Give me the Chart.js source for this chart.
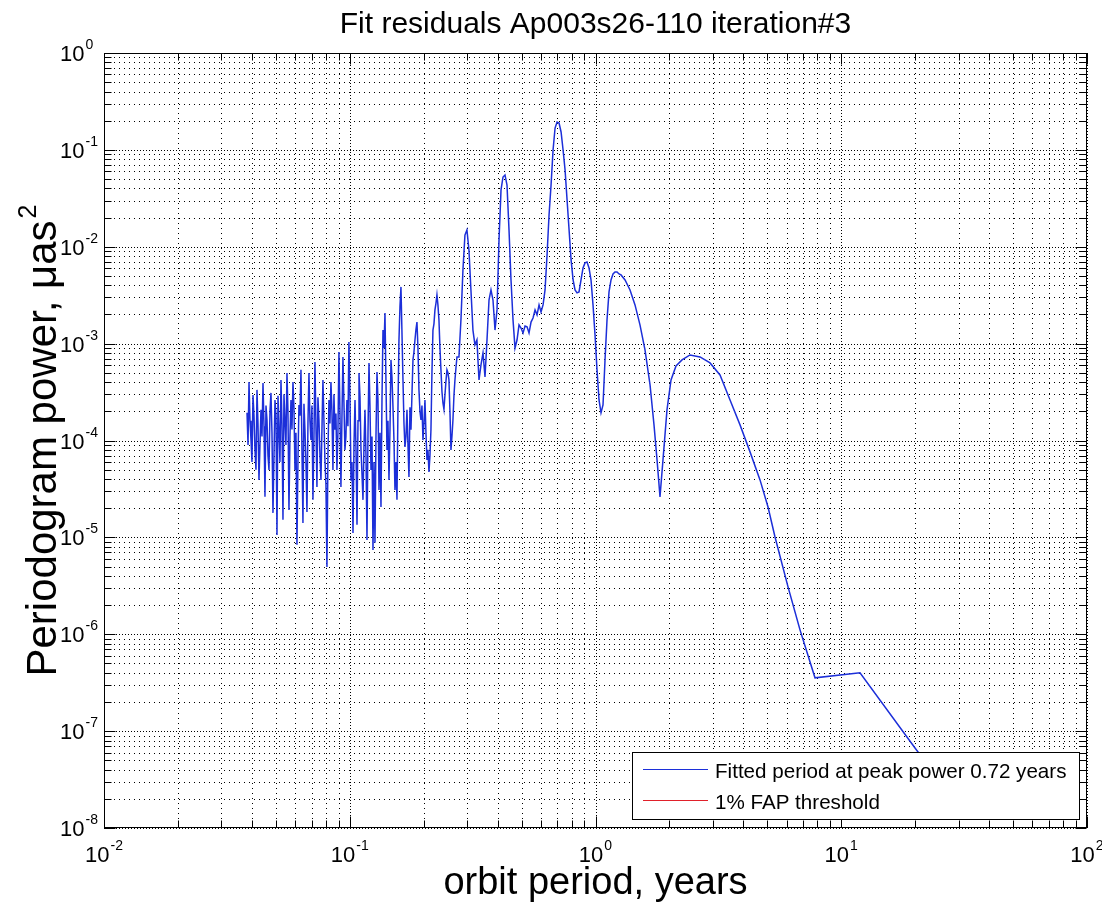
<!DOCTYPE html>
<html>
<head>
<meta charset="utf-8">
<script src="https://cdn.jsdelivr.net/npm/chart.js@4.4.0/dist/chart.umd.min.js"></script>
<style>
  html, body { margin: 0; padding: 0; background: #fff; }
  canvas { display: block; }
</style>
</head>
<body>
<canvas id="fitChart" width="1102" height="907"></canvas>
<script>
// orbit period (years) and periodogram power
var periods = [
  0.03819, 0.03855, 0.03891, 0.03928, 0.03964, 0.04001, 0.04039, 0.04077, 0.04115, 0.04154,
  0.04193, 0.04232, 0.04272, 0.04312, 0.04353, 0.04394, 0.04436, 0.04478, 0.04519, 0.04562,
  0.04605, 0.04648, 0.04692, 0.04736, 0.04780, 0.04825, 0.04871, 0.04917, 0.04963, 0.05010,
  0.05057, 0.05105, 0.05152, 0.05200, 0.05250, 0.05299, 0.05349, 0.05399, 0.05450, 0.05501,
  0.05553, 0.05605, 0.05658, 0.05711, 0.05765, 0.05819, 0.05874, 0.05929, 0.05985, 0.06041,
  0.06098, 0.06155, 0.06213, 0.06271, 0.06331, 0.06391, 0.06450, 0.06511, 0.06572, 0.06634,
  0.06697, 0.06760, 0.06823, 0.06887, 0.06952, 0.07017, 0.07084, 0.07151, 0.07218, 0.07286,
  0.07354, 0.07423, 0.07493, 0.07564, 0.07635, 0.07707, 0.07779, 0.07852, 0.07926, 0.08001,
  0.08076, 0.08152, 0.08229, 0.08306, 0.08384, 0.08463, 0.08543, 0.08623, 0.08704, 0.08786,
  0.08869, 0.08952, 0.09036, 0.09121, 0.09207, 0.09294, 0.09381, 0.09469, 0.09558, 0.09648,
  0.09739, 0.09831, 0.09923, 0.10016, 0.10118, 0.10213, 0.10309, 0.10406, 0.10504, 0.10603,
  0.10703, 0.10804, 0.10905, 0.11008, 0.11111, 0.11216, 0.11321, 0.11428, 0.11535, 0.11644,
  0.11753, 0.11864, 0.11975, 0.12088, 0.12202, 0.12317, 0.12432, 0.12549, 0.12667, 0.12786,
  0.12907, 0.13028, 0.13151, 0.13275, 0.13399, 0.13525, 0.13653, 0.13781, 0.13911, 0.14042,
  0.14174, 0.14307, 0.14442, 0.14578, 0.14715, 0.14853, 0.14993, 0.15134, 0.15276, 0.15420,
  0.15565, 0.15711, 0.15859, 0.16008, 0.16159, 0.16311, 0.16465, 0.16620, 0.16776, 0.16934,
  0.17093, 0.17254, 0.17416, 0.17580, 0.17746, 0.17913, 0.18081, 0.18251, 0.18423, 0.18596,
  0.18771, 0.18948, 0.19126, 0.19306, 0.19488, 0.19671, 0.19856, 0.20043, 0.20232, 0.20422,
  0.20614, 0.20808, 0.21004, 0.21202, 0.21401, 0.21602, 0.21806, 0.22011, 0.22218, 0.22427,
  0.22638, 0.22851, 0.23066, 0.23283, 0.23502, 0.23723, 0.23947, 0.24172, 0.24400, 0.24630,
  0.24861, 0.25095, 0.25331, 0.25569, 0.25810, 0.26053, 0.26298, 0.26545, 0.26795, 0.27047,
  0.27302, 0.27818, 0.28344, 0.28880, 0.29426, 0.29982, 0.30549, 0.31127, 0.31716, 0.32315,
  0.32926, 0.3357, 0.3420, 0.3485, 0.3551, 0.3618, 0.3687, 0.3756, 0.3827, 0.3900,
  0.3974, 0.4049, 0.4126, 0.4204, 0.4283, 0.4364, 0.4447, 0.4531, 0.4617, 0.4704,
  0.4793, 0.4884, 0.4977, 0.5071, 0.5167, 0.5265, 0.5364, 0.5466, 0.5569, 0.5675,
  0.5782, 0.5892, 0.6003, 0.6117, 0.6233, 0.6351, 0.6471, 0.6594, 0.6719, 0.6846,
  0.6976, 0.7108, 0.7243, 0.7380, 0.7519, 0.7662, 0.7807, 0.7955, 0.8106, 0.8254,
  0.8410, 0.8569, 0.8731, 0.8897, 0.9065, 0.9236, 0.9411, 0.9589, 0.9770, 0.9955,
  1.0143, 1.0335, 1.0530, 1.0729, 1.0933, 1.1140, 1.1350, 1.1565, 1.1784, 1.2007,
  1.2234, 1.2466, 1.270, 1.319, 1.382, 1.448, 1.517, 1.590, 1.667, 1.730,
  1.780, 1.830, 1.882, 1.954, 2.029, 2.126, 2.249, 2.424, 2.662, 2.924,
  3.211, 3.527, 3.873, 4.254, 4.671, 5.035, 5.376, 6.073, 6.795, 7.820,
  11.92, 19.96, 30.4
];
var powers = [
  1.93e-4, 9e-5, 4.02e-4, 1.6e-4, 1.01e-4, 6e-5, 2.95e-4, 1.8e-4, 8.0e-5, 5e-5,
  3.33e-4, 1.5e-4, 3.92e-5, 9e-5, 2.07e-4, 1.1e-4, 3.93e-4, 1.4e-4, 2.62e-5, 2.3e-4,
  1.63e-4, 7e-5, 4.97e-5, 2.0e-4, 3.10e-4, 1.2e-4, 1.79e-5, 7e-5, 2.62e-4, 1.8e-4,
  1.06e-5, 2.9e-4, 1.29e-4, 6e-5, 4.22e-4, 1.5e-4, 1.52e-5, 3.0e-4, 1.63e-4, 9e-5,
  4.98e-4, 2.0e-4, 1.92e-5, 1.1e-4, 2.62e-4, 1.3e-4, 4.02e-4, 2.2e-4, 4.97e-5, 1.2e-4,
  8.4e-6, 6e-5, 2.33e-4, 1.8e-4, 5.36e-4, 8e-5, 1.41e-5, 2.4e-4, 1.29e-4, 6e-5,
  1.83e-5, 1.5e-4, 4.98e-4, 1.6e-4, 1.01e-4, 2.3e-4, 2.44e-5, 1.1e-4, 6.47e-4, 1.4e-4,
  3.32e-5, 2.8e-4, 1.63e-4, 7e-5, 3.92e-5, 1.3e-4, 4.22e-4, 1.6e-4, 6.31e-5, 3.5e-5,
  4.96e-6, 7e-5, 2.62e-4, 1.5e-4, 4.02e-4, 2.0e-4, 4.97e-5, 3.0e-4, 1.29e-4, 1.9e-4,
  4.97e-5, 1.2e-4, 8.21e-4, 2.0e-4, 3.32e-5, 1.7e-4, 7.29e-4, 2.5e-4, 8.0e-5, 1.1e-4,
  2.62e-4, 1.4e-4, 1.04e-3, 3.0e-4, 3.92e-5, 6e-5, 1.11e-5, 9e-5, 2.62e-4, 8e-5,
  1.35e-5, 1.6e-4, 4.98e-4, 2.8e-4, 8.0e-5, 4.5e-5, 2.44e-5, 9e-5, 2.07e-4, 7e-5,
  9.4e-6, 1.2e-4, 6.32e-4, 2.2e-4, 4.97e-5, 1.1e-4, 7.4e-6, 6e-5, 8.8e-6, 1.1e-4,
  5.10e-4, 2.6e-4, 3.09e-5, 1.2e-4, 2.06e-5, 2.6e-4, 1.38e-3, 9e-4, 2.07e-3, 4e-4,
  8.0e-5, 1.6e-4, 3.92e-5, 1.3e-4, 6.79e-4, 4.5e-4, 2.22e-4, 1.0e-4, 3.09e-5, 6e-5,
  2.44e-5, 2.2e-4, 1.09e-3, 2.4e-3, 3.85e-3, 1.3e-3, 4.22e-4, 1.5e-4, 8.59e-5, 1.1e-4,
  2.07e-4, 9e-5, 4.21e-5, 2.2e-4, 1.29e-4, 3.0e-4, 6.79e-4, 8.2e-4, 1.09e-3, 1.4e-3,
  1.67e-3, 9e-4, 3.33e-4, 2.0e-4, 1.63e-4, 2.3e-4, 1.01e-4, 1.5e-4, 2.62e-4, 1.2e-4,
  6.31e-5, 8e-5, 4.74e-5, 7e-5, 1.29e-4, 5e-4, 1.38e-3, 1.6e-3, 2.23e-3, 2.6e-3,
  3.18e-3, 2.5e-3, 1.76e-3, 9e-4, 5.36e-4, 3.2e-4, 2.44e-4, 2.1e-4, 2.95e-4, 4.1e-4,
  5.36e-4, 5.0e-4, 4.22e-4, 2.0e-4, 8.0e-5, 1.1e-4, 1.63e-4, 2.9e-4, 4.22e-4, 5.6e-4,
  7.29e-4, 7.29e-4, 1.76e-3, 5.76e-3, 1.32e-2, 1.49e-2, 9.27e-3, 3.58e-3, 1.38e-3, 9.70e-4,
  1.09e-3, 4.22e-4, 6.03e-4, 8.02e-4, 4.53e-4, 1.09e-3, 2.82e-3, 3.58e-3, 2.82e-3, 1.38e-3,
  2.23e-3, 1.175e-2, 3.86e-2, 5.25e-2, 5.51e-2, 4.34e-2, 1.49e-2, 4.54e-3, 1.76e-3, 9.03e-4,
  1.09e-3, 1.56e-3, 1.45e-3, 1.29e-3, 1.52e-3, 1.49e-3, 1.29e-3, 1.67e-3, 1.84e-3, 2.23e-3,
  1.98e-3, 2.51e-3, 2.12e-3, 2.51e-3, 3.58e-3, 8.23e-3, 2.13e-2, 4.34e-2, 9.98e-2, 0.168,
  0.194, 0.1895, 0.153, 9.98e-2, 6.2e-2, 3.04e-2, 1.49e-2, 7.31e-3, 4.54e-3, 3.58e-3,
  3.34e-3, 3.42e-3, 4.54e-3, 6.04e-3, 6.81e-3, 6.97e-3, 6.04e-3, 4.54e-3, 2.51e-3, 1.23e-3,
  5.36e-4, 2.62e-4, 1.93e-4, 2.33e-4, 6.79e-4, 1.76e-3, 3.42e-3, 4.54e-3, 5.24e-3, 5.50e-3,
  5.50e-3, 5.24e-3, 5.12e-3, 4.54e-3, 3.58e-3, 2.51e-3, 1.56e-3, 8.61e-4, 3.75e-4, 1.45e-4,
  6.31e-5, 2.62e-5, 6.31e-5, 2.07e-4, 4.22e-4, 5.89e-4, 6.79e-4, 7.64e-4, 7.29e-4, 6.32e-4,
  4.75e-4, 2.62e-4, 1.45e-4, 7.63e-5, 3.92e-5, 2.06e-5, 1.01e-5, 3.08e-6, 1.11e-6, 3.55e-7,
  4.0e-7, 6.7e-8, 1.62e-8
];
// the 1% FAP threshold line never enters the plotted range
var thresholdPeriods = [];
var thresholdPowers = [];

var xExponents = [-2, -1, 0, 1, 2];
var yExponents = [-8, -7, -6, -5, -4, -3, -2, -1, 0];
var minorSteps = [2, 3, 4, 5, 6, 7, 8, 9];

var titleText = 'Fit residuals Ap003s26-110 iteration#3';
var xTitleText = 'orbit period, years';
var yTitleText = 'Periodogram power, \u03bcas';
var yTitleSup = '2';

var FONT = '"Liberation Sans", Arial, Helvetica, sans-serif';

function toPoints(xs, ys) {
  var pts = [];
  for (var i = 0; i < xs.length; i++) pts.push({x: xs[i], y: ys[i]});
  return pts;
}

function gridValues(exps) {
  var vals = [];
  for (var i = 0; i < exps.length; i++) {
    var base = Math.pow(10, exps[i]);
    vals.push({v: base, major: true});
    if (i < exps.length - 1) {
      minorSteps.forEach(function(m){ vals.push({v: m * base, major: false}); });
    }
  }
  return vals;
}

function drawPow(ctx, exp, x, y, align) {
  // "10" with a raised exponent, the way matlab prints log ticks
  ctx.font = '22px ' + FONT;
  var w10 = ctx.measureText('10').width;
  ctx.font = '14px ' + FONT;
  var e = String(exp);
  var we = ctx.measureText(e).width;
  var start = align === 'center' ? x - (w10 + 1 + we) / 2 : x;
  ctx.textAlign = 'left';
  ctx.textBaseline = 'alphabetic';
  ctx.font = '22px ' + FONT;
  ctx.fillText('10', start, y);
  ctx.font = '14px ' + FONT;
  ctx.fillText(e, start + w10 + 1, y - 12);
}

var matlabAxes = {
  id: 'matlabAxes',
  beforeDatasetsDraw: function(chart) {
    var ctx = chart.ctx, a = chart.chartArea;
    var xs = chart.scales.x, ys = chart.scales.y;
    ctx.save();
    ctx.strokeStyle = '#000';
    ctx.lineWidth = 1;
    gridValues(xExponents).forEach(function(t){
      var px = Math.round(xs.getPixelForValue(t.v)) + 0.5;
      ctx.setLineDash(t.major ? [1, 2] : [1, 4]);
      ctx.beginPath(); ctx.moveTo(px, a.top); ctx.lineTo(px, a.bottom); ctx.stroke();
    });
    gridValues(yExponents).forEach(function(t){
      var py = Math.round(ys.getPixelForValue(t.v)) + 0.5;
      ctx.setLineDash(t.major ? [1, 2] : [1, 4]);
      ctx.beginPath(); ctx.moveTo(a.left, py); ctx.lineTo(a.right, py); ctx.stroke();
    });
    ctx.restore();
  },
  afterDatasetsDraw: function(chart) {
    var ctx = chart.ctx, a = chart.chartArea;
    var xs = chart.scales.x, ys = chart.scales.y;
    ctx.save();
    ctx.strokeStyle = '#000';
    ctx.fillStyle = '#000';
    ctx.lineWidth = 1;
    ctx.setLineDash([]);

    var L = Math.round(a.left) + 0.5, R = Math.round(a.right) - 0.5;
    var T = Math.round(a.top) + 0.5, B = Math.round(a.bottom) - 0.5;
    ctx.strokeRect(L, T, R - L, B - T);

    // inward ticks on all four sides
    ctx.beginPath();
    gridValues(xExponents).forEach(function(t){
      var px = Math.round(xs.getPixelForValue(t.v)) + 0.5;
      var len = t.major ? 11 : 7;
      ctx.moveTo(px, B); ctx.lineTo(px, B - len);
      ctx.moveTo(px, T); ctx.lineTo(px, T + len);
    });
    gridValues(yExponents).forEach(function(t){
      var py = Math.round(ys.getPixelForValue(t.v)) + 0.5;
      var len = t.major ? 11 : 7;
      ctx.moveTo(L, py); ctx.lineTo(L + len, py);
      ctx.moveTo(R, py); ctx.lineTo(R - len, py);
    });
    ctx.stroke();

    // tick labels
    xExponents.forEach(function(e){
      drawPow(ctx, e, xs.getPixelForValue(Math.pow(10, e)), a.bottom + 34, 'center');
    });
    yExponents.forEach(function(e){
      drawPow(ctx, e, 60, ys.getPixelForValue(Math.pow(10, e)) + 8, 'left');
    });

    // title and axis titles
    var cx = (a.left + a.right) / 2;
    ctx.textAlign = 'center';
    ctx.textBaseline = 'alphabetic';
    ctx.font = '30px ' + FONT;
    ctx.fillText(titleText, cx, 33);
    ctx.font = '38px ' + FONT;
    ctx.fillText(xTitleText, cx, 894);

    ctx.save();
    ctx.translate(56, (a.top + a.bottom) / 2);
    ctx.rotate(-Math.PI / 2);
    ctx.font = '42px ' + FONT;
    var wMain = ctx.measureText(yTitleText).width;
    ctx.font = '25px ' + FONT;
    var wSup = ctx.measureText(yTitleSup).width;
    var sx = -(wMain + wSup + 2) / 2;
    ctx.textAlign = 'left';
    ctx.font = '42px ' + FONT;
    ctx.fillText(yTitleText, sx, 0);
    ctx.font = '25px ' + FONT;
    ctx.fillText(yTitleSup, sx + wMain + 2, -20);
    ctx.restore();

    // legend box in the lower right corner
    var bx = 632.5, by = 752.5, bw = 447, bh = 67;
    ctx.fillStyle = '#fff';
    ctx.fillRect(bx, by, bw, bh);
    ctx.strokeStyle = '#000';
    ctx.strokeRect(bx, by, bw, bh);
    ctx.font = '20.6px ' + FONT;
    ctx.textAlign = 'left';
    chart.data.datasets.forEach(function(ds, i){
      var ly = 769.5 + i * 31;
      ctx.strokeStyle = ds.borderColor;
      ctx.lineWidth = 1;
      ctx.beginPath(); ctx.moveTo(643, ly); ctx.lineTo(708, ly); ctx.stroke();
      ctx.fillStyle = '#000';
      ctx.fillText(ds.label, 715, ly + 8);
    });
    ctx.restore();
  }
};

var ctx = document.getElementById('fitChart').getContext('2d');
var fitChart = new Chart(ctx, {
  type: 'line',
  data: {
    datasets: [{
      label: 'Fitted period at peak power 0.72 years',
      data: toPoints(periods, powers),
      borderColor: '#1c2fd9',
      borderWidth: 1.5,
      pointRadius: 0,
      fill: false,
      tension: 0
    }, {
      label: '1% FAP threshold',
      data: toPoints(thresholdPeriods, thresholdPowers),
      borderColor: '#e0202a',
      borderWidth: 1,
      pointRadius: 0,
      fill: false
    }]
  },
  options: {
    responsive: false,
    animation: false,
    devicePixelRatio: 1,
    layout: { padding: { left: 104, top: 53, right: 15, bottom: 79 } },
    plugins: {
      legend: { display: false },
      title: { display: false },
      tooltip: { enabled: false }
    },
    scales: {
      x: { type: 'logarithmic', min: 0.01, max: 100, display: false },
      y: { type: 'logarithmic', min: 1e-8, max: 1, display: false }
    }
  },
  plugins: [matlabAxes]
});
</script>
</body>
</html>
